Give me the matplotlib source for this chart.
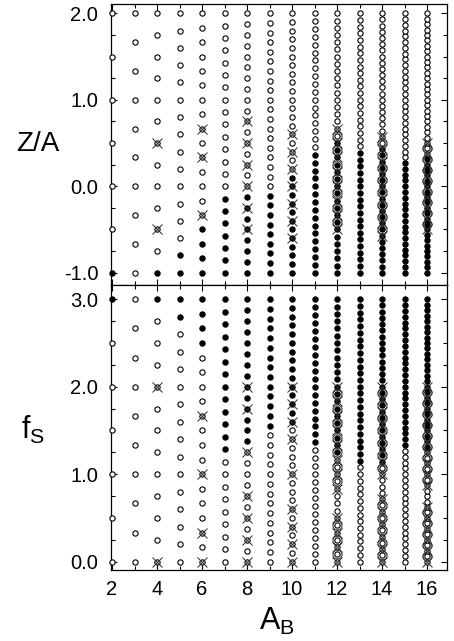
import numpy as np
import matplotlib
matplotlib.use("Agg")
import matplotlib.pyplot as plt
from matplotlib.ticker import MultipleLocator, FormatStrFormatter

plt.rcParams['font.family'] = ['Liberation Sans', 'DejaVu Sans']
plt.rcParams['axes.unicode_minus'] = False
plt.rcParams['mathtext.fontset'] = 'custom'
plt.rcParams['mathtext.rm'] = 'Liberation Sans'
plt.rcParams['mathtext.it'] = 'Liberation Sans'

# --------------------------------------------------------------------
# data
# every A_B column holds all integer Z (-A..2A) and S (0..3A)
# --------------------------------------------------------------------
A_B = [2, 3, 4, 5, 6, 7, 8, 9, 10, 11, 12, 13, 14, 15, 16]

# upper panel: bound (filled) for Z <= zmax
top_bound_zmax = {2: -2, 3: None, 4: -4, 5: -4, 6: -3, 7: -1, 8: -1, 9: -1,
                  10: 1, 11: 4, 12: 6, 13: 5, 14: 6, 15: 4, 16: 5}
# Z values marked with a cross
top_cross_Z = {
    4: [-2, 2],
    6: [-2, 2, 4],
    8: [-4, -2, 0, 2, 4, 6],
    10: [-6, -4, -2, 0, 2, 4, 6],
    12: [-6, -4, -2, 0, 2, 4, 6, 8],
    14: [-8, -6, -4, -2, 0, 2, 4, 6, 8],
    16: [-8, -6, -4, -2, 0, 2, 4, 6, 8],
}
# Z values with the big ring
top_ring_Z = {
    12: [-5, -3, -1, 1, 3, 5, 7],
    14: [-7, -5, -3, -1, 1, 3, 5, 7],
    16: [-7, -5, -3, -1, 1, 3, 5, 7],
}

# lower panel: bound (filled) for S >= smin
bot_bound_smin = {2: 6, 3: None, 4: 12, 5: 14, 6: 15, 7: 9, 8: 11, 9: 14,
                  10: 16, 11: 15, 12: 15, 13: 15, 14: 16, 15: 20, 16: 21}
bot_cross_S = {
    4: [0, 8],
    6: [0, 2, 6, 10],
    8: [0, 2, 4, 6, 10, 14, 16],
    10: [0, 2, 4, 6, 10, 14, 16, 18, 20],
    12: [0, 2, 4, 6, 10, 12, 14, 16, 18, 20, 22, 24],
    14: [0, 2, 4, 6, 8, 10, 14, 16, 18, 20, 22, 24, 26, 28],
    16: [0, 2, 4, 6, 8, 10, 14, 16, 18, 20, 22, 24, 26, 28, 30, 32],
}
bot_ring_S = {
    12: [1, 3, 5, 11, 13, 15, 17, 19, 21, 23],
    14: [1, 3, 5, 7, 9, 15, 17, 19, 21, 23, 25, 27],
    16: [1, 3, 5, 7, 9, 15, 17, 19, 21, 23, 25, 27, 29, 31],
}

# --------------------------------------------------------------------
MS = 3.8      # small circles
MS_X = 7.5    # crosses
MS_R = 6.5    # rings


def draw(ax, grid, is_bound, cross, ring):
    for A in A_B:
        q = grid(A)
        b = is_bound(A, q)
        x = np.full(len(q), A)
        ax.plot(x[~b], q[~b] / A, ls='none', marker='o', ms=MS, mfc='white',
                mec='black', mew=0.8, clip_on=False, zorder=3)
        ax.plot(x[b], q[b] / A, ls='none', marker='o', ms=MS, mfc='black',
                mec='black', mew=0.8, clip_on=False, zorder=3)
        if A in ring:
            r = np.array(ring[A])
            ax.plot(np.full(len(r), A), r / A, ls='none', marker='o', ms=MS_R,
                    mfc='none', mec='#3a3a3a', mew=0.8, zorder=4)
        if A in cross:
            c = np.array(cross[A])
            ax.plot(np.full(len(c), A), c / A, ls='none', marker='x', ms=MS_X,
                    mec='#2a2a2a', mew=0.7, zorder=5)


fig = plt.figure(figsize=(4.54, 6.41), dpi=100)
ax1 = fig.add_axes([0.2438, 0.5554, 0.7414, 0.4384])
ax2 = fig.add_axes([0.2438, 0.1108, 0.7414, 0.4446])

draw(ax1, lambda A: np.arange(-A, 2 * A + 1),
     lambda A, q: (q <= top_bound_zmax[A]) if top_bound_zmax[A] is not None
     else np.zeros(len(q), bool),
     top_cross_Z, top_ring_Z)
draw(ax2, lambda A: np.arange(0, 3 * A + 1),
     lambda A, q: (q >= bot_bound_smin[A]) if bot_bound_smin[A] is not None
     else np.zeros(len(q), bool),
     bot_cross_S, bot_ring_S)

ax1.set_xlim(1.94, 16.9)
ax2.set_xlim(1.94, 16.9)
ax1.set_ylim(-1.142, 2.108)
ax2.set_ylim(-0.095, 3.163)

for ax in (ax1, ax2):
    ax.xaxis.set_major_locator(MultipleLocator(2))
    ax.xaxis.set_minor_locator(MultipleLocator(1))
    ax.yaxis.set_major_locator(MultipleLocator(1))
    ax.yaxis.set_minor_locator(MultipleLocator(0.25))
    ax.yaxis.set_major_formatter(FormatStrFormatter('%.1f'))
    ax.tick_params(which='both', direction='in', top=True, right=True,
                   width=0.8, labelsize=14.5)
    ax.tick_params(which='major', length=4)
    ax.tick_params(which='minor', length=3)
    ax.tick_params(axis='y', pad=9)
    ax.tick_params(axis='x', pad=7)
    for s in ax.spines.values():
        s.set_linewidth(0.9)

ax1.tick_params(labelbottom=False)

ax1.set_ylabel('Z/A', rotation=0, fontsize=20, ha='center', va='center')
ax1.yaxis.set_label_coords(-0.216, 0.5)
ax2.set_ylabel(r'$\mathregular{f_S}$', rotation=0, fontsize=22,
               ha='center', va='center')
ax2.yaxis.set_label_coords(-0.23, 0.49)
ax2.set_xlabel(r'$\mathregular{A_B}$', fontsize=22, va='center')
ax2.xaxis.set_label_coords(0.495, -0.18)

fig.savefig('out.png', dpi=100)
